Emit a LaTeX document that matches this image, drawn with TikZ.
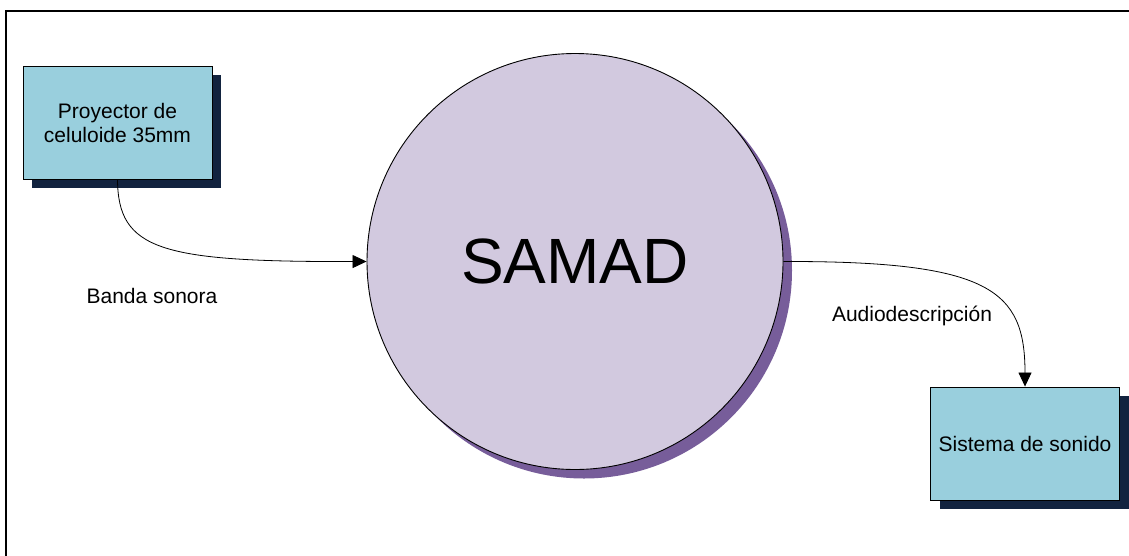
\documentclass[tikz,border=0pt]{standalone}
\usepackage{fontspec}
\setmainfont{Liberation Sans}
\usetikzlibrary{shadows,arrows.meta}
\definecolor{boxfill}{HTML}{99CFDD}
\definecolor{boxshade}{HTML}{12233F}
\definecolor{circfill}{HTML}{D2C9DF}
\definecolor{circshade}{HTML}{775D9A}
\tikzset{
  procbox/.style={draw=black, line width=0.9pt, fill=boxfill,
    minimum width=189pt, minimum height=113pt, inner sep=0pt, align=center,
    font=\fontsize{21}{24}\selectfont,
    general shadow={shadow xshift=9pt, shadow yshift=-9pt, fill=boxshade}},
  proccircle/.style={circle, draw=black, line width=0.9pt, fill=circfill,
    minimum size=416pt, inner sep=0pt, font=\fontsize{64}{64}\selectfont,
    general shadow={shadow xshift=9pt, shadow yshift=-9pt, fill=circshade}},
  flow/.style={draw=black, line width=0.8pt, -{Triangle[length=14pt,width=13pt]}},
  flowlabel/.style={font=\fontsize{21}{24}\selectfont, inner sep=0pt},
  frameline/.style={draw=black, line width=1.7pt}
}
\begin{document}
\begin{tikzpicture}[x=1pt, y=-1pt]
  \useasboundingbox (0,0) rectangle (1129,555);
  % outer frame (left and top edges)
  \coordinate (fbl) at (6,560);
  \coordinate (ftl) at (6,11);
  \coordinate (ftr) at (1135,11);
  \draw[frameline] (fbl) -- (ftl) -- (ftr);

  % nodes
  \node[procbox] (proj) at (117.5,122.5) {Proyector de\\celuloide 35mm};
  \node[proccircle] (samad) at (575,261.5) {SAMAD};
  \node[procbox] (sound) at (1025,443.5) {Sistema de sonido};

  % flows
  \draw[flow] (proj.south) .. controls (118,250) and (160,262) .. (samad.west);
  \draw[flow] (samad.east) .. controls (990,261) and (1025,290) .. (sound.north);

  % labels
  \node[flowlabel] (lband) at (152,296) {Banda sonora};
  \node[flowlabel] (laud) at (912,316) {Audiodescripción};
\end{tikzpicture}
\end{document}
